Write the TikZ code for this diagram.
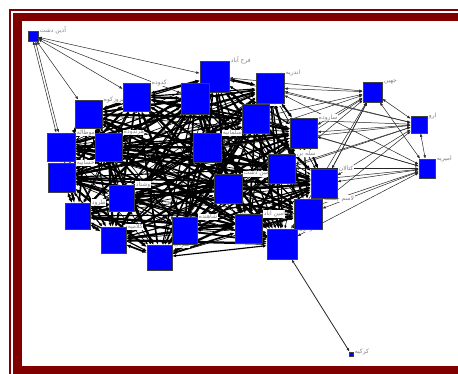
\documentclass[tikz,border=0pt]{standalone}
\usepackage{fontspec}
\usetikzlibrary{arrows.meta}
\TeXXeTstate=1
\newfontfamily\arfont[Script=Arabic]{DejaVu Sans}
\definecolor{maroonf}{RGB}{128,0,0}
\definecolor{nodeblue}{RGB}{0,0,255}
\pgfdeclarelayer{bgl}\pgfdeclarelayer{edgel}\pgfdeclarelayer{labl}
\pgfsetlayers{bgl,edgel,labl,main}
\tikzset{
 vb/.style={draw=black!75, line width=0.5pt, fill=nodeblue, inner sep=0pt, rectangle},
 lab/.style={anchor=west, fill=white, inner sep=0.5pt, text=black!50, font=\arfont\fontsize{6}{6}\selectfont},
 mesh/.style={draw=black, {Latex[length=2.4pt 1.2,width=1.8pt 1.2]}-{Latex[length=2.4pt 1.2,width=1.8pt 1.2]}},
 thinarr/.style={draw=black!85, line width=0.5pt, {Latex[length=3.5pt,width=2.6pt]}-{Latex[length=3.5pt,width=2.6pt]}},
}
\newcommand\vnode[5]{\node[vb,minimum width=#4pt,minimum height=#5pt] (n#1) at (#2,#3) {};}
\newcommand\vlab[2]{\node[lab] (l#1) at ([xshift=1pt]n#1.north east) {#2};}
\begin{document}
\begin{tikzpicture}[x=1pt,y=-1pt]
\useasboundingbox (0,0) rectangle (458,374);
\begin{pgfonlayer}{bgl}
\fill[white] (0,0) rectangle (458,374);
\fill[maroonf] (9,9) rectangle (458,374);
\fill[white] (11,11) rectangle (458,374);
\fill[maroonf] (13,13) rectangle (458,374);
\fill[white] (22,21) rectangle (458,366);
\end{pgfonlayer}
% nodes
\vnode{1}{33}{36}{10}{10}
\vnode{2}{214.5}{76.5}{29}{31}
\vnode{3}{195}{98.5}{28}{31}
\vnode{4}{136.5}{97}{27}{28}
\vnode{5}{88.5}{114}{27}{28}
\vnode{6}{61}{147}{28}{28}
\vnode{7}{108.5}{147}{27}{28}
\vnode{8}{207}{147.5}{28}{29}
\vnode{9}{61.5}{177.5}{27}{29}
\vnode{10}{121.5}{198}{25}{26}
\vnode{11}{77.5}{216}{25}{26}
\vnode{12}{113.5}{240}{25}{26}
\vnode{13}{184.5}{230.5}{25}{27}
\vnode{14}{159.5}{257.5}{25}{25}
\vnode{15}{228}{188.5}{28}{29}
\vnode{16}{248.5}{228.5}{27}{29}
\vnode{17}{282}{244}{30}{30}
\vnode{18}{308}{214}{28}{30}
\vnode{19}{324}{183.5}{26}{29}
\vnode{20}{281.5}{168.5}{27}{29}
\vnode{21}{303.5}{133}{27}{30}
\vnode{22}{255.5}{118.5}{27}{29}
\vnode{23}{270}{88}{28}{30}
\vnode{24}{372.5}{92}{19}{20}
\vnode{25}{419}{124.5}{16}{17}
\vnode{26}{427}{168.5}{16}{19}
\vnode{27}{351}{354}{4}{4}
% edges
\begin{pgfonlayer}{edgel}
\foreach \i in {2,...,23}{\foreach \j in {2,...,23}{\ifnum\i<\j
 \pgfmathsetmacro\w{0.6+0.55*mod(\i*5+\j*3,4)}
 \draw[mesh,line width=\w pt] (n\i) -- (n\j);\fi}}
\foreach \j in {2,3,4,5}{\draw[thinarr] (n1) -- (n\j);}
\draw[thinarr,transform canvas={xshift=-1.2pt}] (n1) -- (n6);
\draw[thinarr,transform canvas={xshift=1.2pt}] (n1) -- (n6);
\foreach \j in {2,23,22,21,20,19,18,17,15,8,25,26}{\draw[thinarr] (n24) -- (n\j);}
\foreach \j in {23,22,21,20,19,18,15,8,2,26}{\draw[thinarr] (n25) -- (n\j);}
\foreach \j in {23,22,21,20,19,18,17,16,15}{\draw[thinarr] (n26) -- (n\j);}
\draw[thinarr,line width=0.8pt] (n27) -- (n17);
\end{pgfonlayer}
% labels
\begin{pgfonlayer}{labl}
\vlab{1}{\beginR آذین دشت\endR}
\vlab{2}{\beginR فرح آباد\endR}
\vlab{4}{\beginR کدوده\endR}
\vlab{5}{\beginR فیروزکوه\endR}
\vlab{6}{\beginR موطاله\endR}
\vlab{7}{\beginR هرندوده\endR}
\vlab{8}{\beginR سلمانیه\endR}
\vlab{9}{\beginR حسابیه\endR}
\vlab{10}{\beginR وشتاد\endR}
\vlab{11}{\beginR طرود\endR}
\vlab{12}{\beginR کلامیه\endR}
\vlab{13}{\beginR شاهنده\endR}
\vlab{14}{\beginR شراک\endR}
\vlab{15}{\beginR سیمین دشت\endR}
\vlab{16}{\beginR امین آباد\endR}
\vlab{17}{\beginR سرانزل\endR}
\vlab{18}{\beginR لاسم چشمه\endR}
\vlab{19}{\beginR کتالان\endR}
\vlab{20}{\beginR سله بن\endR}
\vlab{21}{\beginR ساروده\endR}
\vlab{22}{\beginR سید\endR}
\vlab{23}{\beginR اندریه\endR}
\vlab{24}{\beginR جهین\endR}
\vlab{25}{\beginR ارو\endR}
\vlab{26}{\beginR امیریه\endR}
\vlab{27}{\beginR کرکیه\endR}
\end{pgfonlayer}
\end{tikzpicture}
\end{document}
